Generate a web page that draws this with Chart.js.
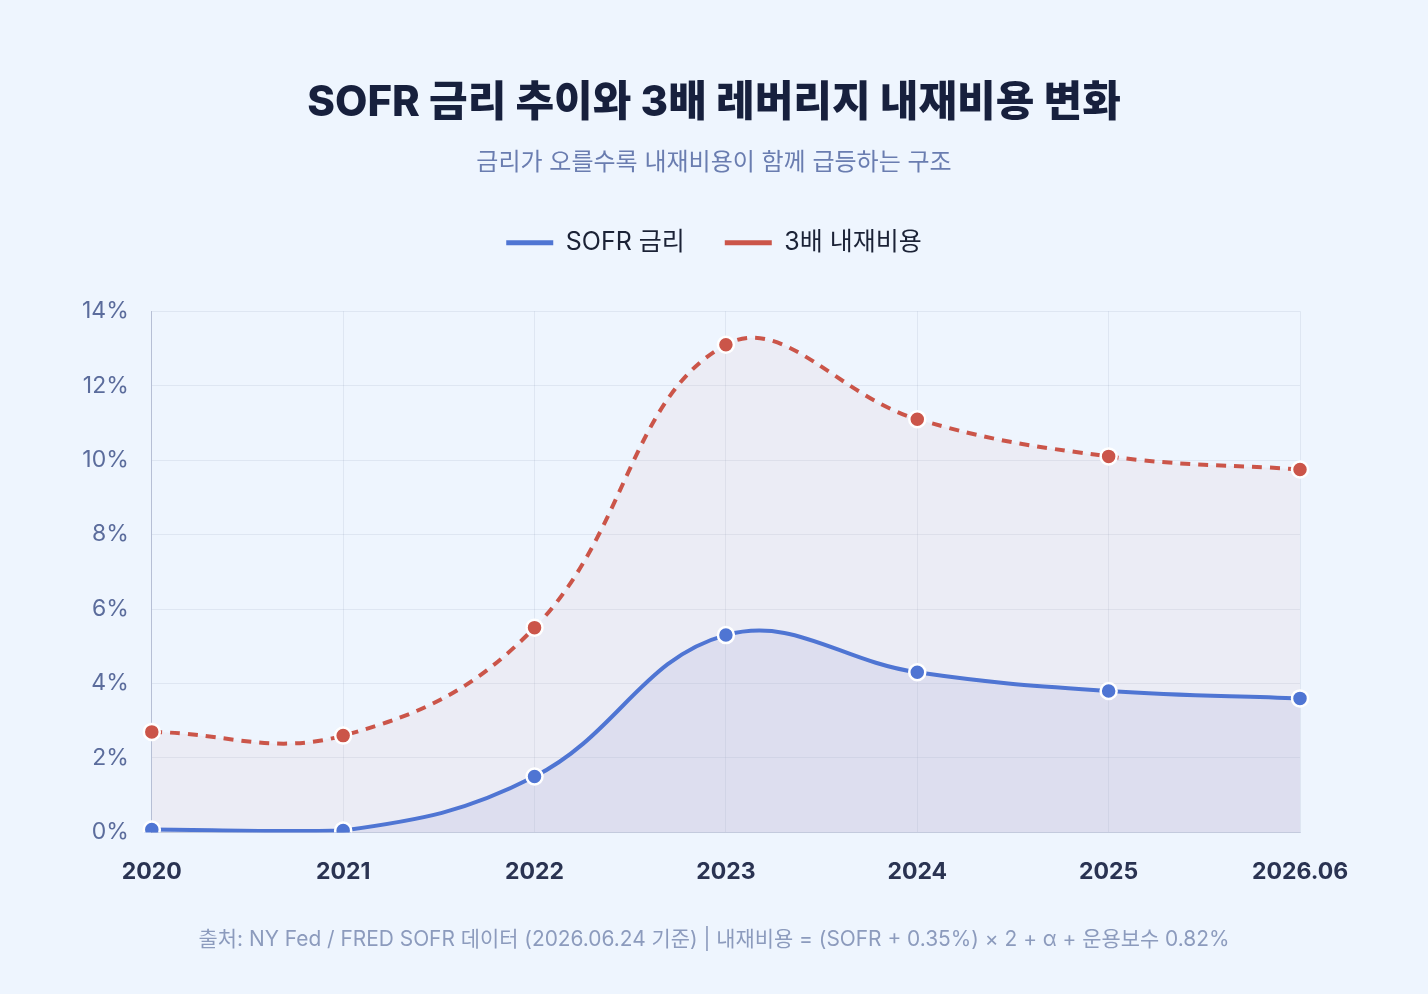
<!DOCTYPE html>
<html lang="ko">
<head>
<meta charset="utf-8">
<script src="https://cdn.jsdelivr.net/npm/chart.js@4.4.1/dist/chart.umd.min.js"></script>
<style>
  html, body { margin: 0; padding: 0; background: #EEF5FE; }
  body { width: 1428px; height: 994px; position: relative; overflow: hidden;
         font-family: "Inter", "Noto Sans CJK KR", sans-serif; }
  #wrap { position: absolute; left: 0; top: 0; width: 1428px; height: 994px; }
  #footer { position: absolute; left: 0; width: 1428px; top: 922px; text-align: center;
            font-size: 20.9px; color: #8C9BBD; font-family: "Inter", "Noto Sans CJK KR", sans-serif; }
</style>
</head>
<body>
<div id="wrap"><canvas id="c" width="1428" height="994"></canvas></div>
<div id="footer">출처: NY Fed / FRED SOFR 데이터 (2026.06.24 기준) | 내재비용 = (SOFR + 0.35%) × 2 + α + 운용보수 0.82%</div>
<script>
const categories = ["2020", "2021", "2022", "2023", "2024", "2025", "2026.06"];
const sofrRate = [0.08, 0.05, 1.5, 5.3, 4.3, 3.8, 3.6];
const leveragedCost = [2.7, 2.6, 5.5, 13.1, 11.1, 10.1, 9.75];
const yTicks = [0, 2, 4, 6, 8, 10, 12, 14];

const FONT = '"Inter", "Noto Sans CJK KR", sans-serif';

// extra gap under the legend + center the top blocks on the full canvas width
const headerLayout = {
  id: 'headerLayout',
  beforeInit(chart) {
    const orig = chart.legend.fit;
    chart.legend.fit = function () {
      orig.call(this);
      this.height += 46;
    };
  },
  afterLayout(chart) {
    chart.boxes.forEach(b => {
      if (b.position === 'top') {
        b.left = 0;
        b.right = chart.width;
        b.width = chart.width;
      }
    });
  }
};

new Chart(document.getElementById('c'), {
  type: 'line',
  plugins: [headerLayout],
  data: {
    labels: categories,
    datasets: [
      {
        label: 'SOFR 금리',
        data: sofrRate,
        borderColor: '#4F75D3',
        backgroundColor: 'rgba(165,165,215,0.2)',
        fill: 'origin',
        borderWidth: 4,
        tension: 0.4,
        pointRadius: 8,
        pointBackgroundColor: '#4F75D3',
        pointBorderColor: '#FFFFFF',
        pointBorderWidth: 2.5,
        order: 1
      },
      {
        label: '3배 내재비용',
        data: leveragedCost,
        borderColor: '#CB5549',
        backgroundColor: 'rgba(215,170,180,0.12)',
        fill: 'origin',
        borderWidth: 4,
        borderDash: [10, 8],
        tension: 0.4,
        pointRadius: 8,
        pointBackgroundColor: '#CB5549',
        pointBorderColor: '#FFFFFF',
        pointBorderWidth: 2.5,
        order: 2
      }
    ]
  },
  options: {
    responsive: false,
    animation: false,
    layout: { padding: { left: 59, right: 128, top: 0, bottom: 82 } },
    plugins: {
      title: {
        display: true,
        text: 'SOFR 금리 추이와 3배 레버리지 내재비용 변화',
        color: '#17203D',
        font: { family: FONT, size: 42, weight: '800' },
        padding: { top: 78, bottom: 0 }
      },
      subtitle: {
        display: true,
        text: '금리가 오를수록 내재비용이 함께 급등하는 구조',
        color: '#6A7DB0',
        font: { family: FONT, size: 24 },
        padding: { top: 20, bottom: 13 }
      },
      legend: {
        display: true,
        labels: {
          color: '#1B2236',
          font: { family: FONT, size: 25 },
          boxWidth: 47,
          boxHeight: 5,
          padding: 40,
          generateLabels(chart) {
            return chart.data.datasets.map((ds, i) => ({
              text: ds.label,
              fillStyle: ds.borderColor,
              strokeStyle: ds.borderColor,
              lineWidth: 0,
              hidden: false,
              datasetIndex: i,
              fontColor: '#1B2236'
            }));
          }
        }
      },
      tooltip: { enabled: false }
    },
    scales: {
      x: {
        grid: { color: 'rgba(110,120,160,0.12)', drawTicks: false },
        border: { color: 'rgba(110,120,160,0.25)' },
        ticks: {
          color: '#2A3352',
          font: { family: FONT, size: 23, weight: 'bold' },
          padding: 26
        }
      },
      y: {
        min: 0,
        max: 14,
        afterBuildTicks(axis) { axis.ticks = yTicks.map(v => ({ value: v })); },
        grid: { color: 'rgba(110,120,160,0.12)', drawTicks: false },
        border: { color: 'rgba(110,120,160,0.35)' },
        ticks: {
          color: '#5B6C9C',
          font: { family: FONT, size: 23 },
          padding: 23,
          callback: v => v + '%'
        }
      }
    }
  }
});
</script>
</body>
</html>
